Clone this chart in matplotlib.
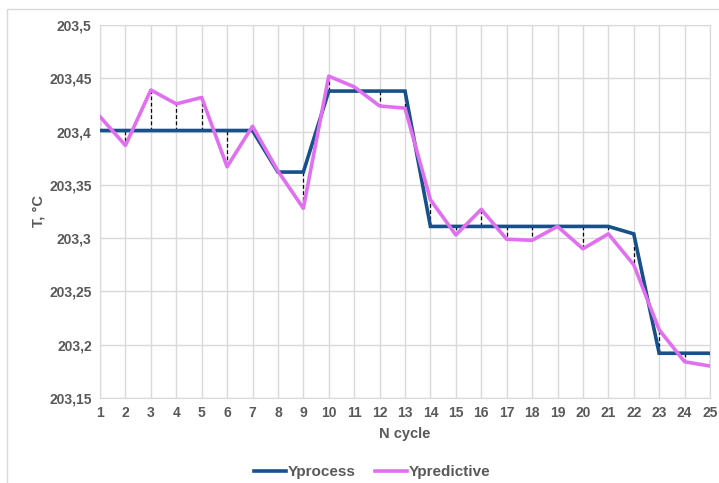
import numpy as np
import matplotlib.pyplot as plt
from matplotlib.ticker import FuncFormatter, MultipleLocator
from matplotlib.patches import Rectangle

plt.rcParams['font.family'] = ['Liberation Sans', 'DejaVu Sans']

# Номери циклів та значення температури
n_cycle = np.arange(1, 26)
y_process = [203.401, 203.401, 203.401, 203.401, 203.401, 203.401, 203.401,
             203.362, 203.362, 203.438, 203.438, 203.438, 203.438,
             203.311, 203.311, 203.311, 203.311, 203.311, 203.311, 203.311, 203.311,
             203.304, 203.192, 203.192, 203.192]
y_predictive = [203.414, 203.387, 203.439, 203.426, 203.432, 203.367, 203.405,
                203.363, 203.328, 203.452, 203.442, 203.424, 203.422,
                203.336, 203.303, 203.327, 203.299, 203.298, 203.311, 203.290, 203.304,
                203.275, 203.214, 203.184, 203.180]

text_color = "#595959"
grid_color = "#d9d9d9"

fig = plt.figure(figsize=(7.19, 4.83), dpi=100)
W, H = 719, 483
ax = fig.add_axes([100 / W, 1 - 398 / H, 610 / W, 373 / H])

# Рамка навколо діаграми
fig.patches.append(Rectangle((7 / W, -0.1), 1.2, 1 - 9 / H + 0.1,
                             transform=fig.transFigure, fill=False,
                             edgecolor="#d9d9d9", linewidth=1))

# Вертикальні відхилення між процесом і прогнозом
ax.vlines(n_cycle, y_process, y_predictive, colors="black",
          linestyles=(0, (3, 2)), linewidth=0.9, zorder=2)

ax.plot(n_cycle, y_process, color="#17508a", linewidth=2.6,
        label="Yprocess", zorder=3, solid_joinstyle="miter")
ax.plot(n_cycle, y_predictive, color="#e070f0", linewidth=2.6,
        label="Ypredictive", zorder=4)

ax.set_xlim(1, 25)
ax.set_ylim(203.15, 203.5)
ax.set_xticks(n_cycle)
ax.yaxis.set_major_locator(MultipleLocator(0.05))
ax.yaxis.set_major_formatter(FuncFormatter(
    lambda v, p: f"{v:.2f}".rstrip("0").rstrip(".").replace(".", ",")))

ax.grid(True, color=grid_color, linewidth=1)
ax.set_axisbelow(True)
for s in ax.spines.values():
    s.set_color(grid_color)
ax.tick_params(length=0, labelsize=10, labelcolor=text_color, pad=6)
for lbl in ax.get_xticklabels() + ax.get_yticklabels():
    lbl.set_fontweight("bold")

ax.set_xlabel("N cycle", fontsize=10.5, fontweight="bold", color=text_color, labelpad=5)
ax.set_ylabel("T, °C", fontsize=10.5, fontweight="bold", color=text_color, labelpad=3)

leg = fig.legend(loc="center", bbox_to_anchor=(372 / W, 1 - 472 / H), ncol=2,
                 frameon=False, fontsize=11, handlelength=2.1, columnspacing=1.3,
                 handletextpad=0.1)
for t in leg.get_texts():
    t.set_color(text_color)
    t.set_fontweight("bold")

fig.savefig("out.png", dpi=100)
